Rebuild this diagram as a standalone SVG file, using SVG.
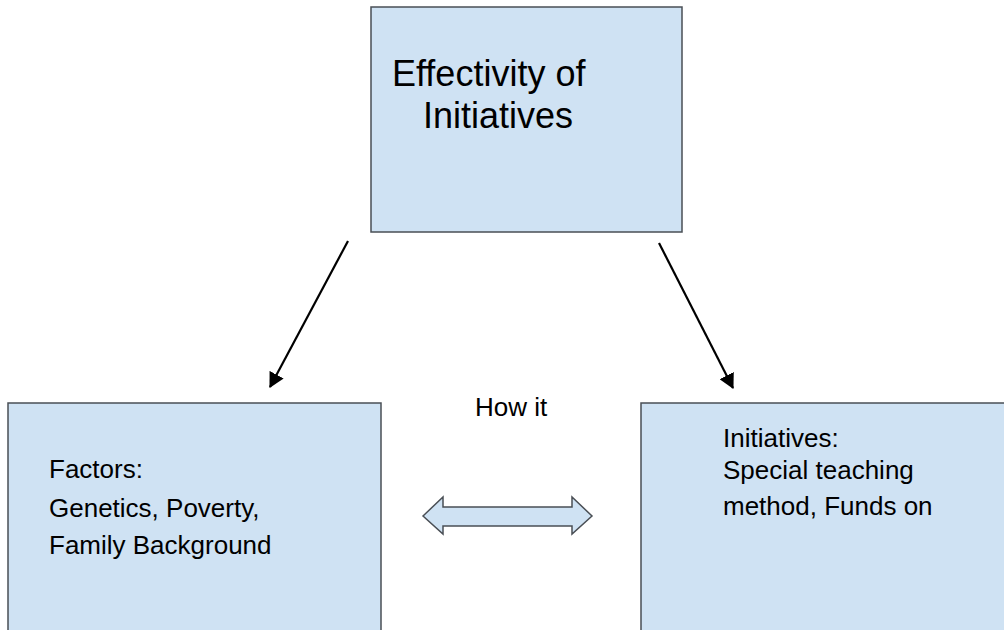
<svg xmlns="http://www.w3.org/2000/svg" width="1004" height="630" viewBox="0 0 1004 630">
  <style>
    .box { fill: #cfe2f3; stroke: #4a4f55; stroke-width: 1.5; }
    .label { font-family: "Liberation Sans", Arial, sans-serif; fill: #000; }
    .title { font-size: 36px; }
    .body { font-size: 26px; }
    .link { stroke: #000; stroke-width: 2.2; fill: none; marker-end: url(#head); }
  </style>
  <defs>
    <marker id="head" viewBox="0 0 15 16" refX="14" refY="8" markerWidth="15" markerHeight="16" markerUnits="userSpaceOnUse" orient="auto">
      <path d="M0,0 L15,8 L0,16 Z" fill="#000"/>
    </marker>
  </defs>
  <rect width="1004" height="630" fill="#fff"/>

  <g id="effectivity">
    <rect class="box" x="371" y="7" width="311" height="225" stroke="#5a5f66" stroke-width="3"/>
    <text class="label title" x="392" y="86">Effectivity of</text>
    <text class="label title" x="423" y="128">Initiatives</text>
  </g>

  <g id="factors">
    <rect class="box" x="8" y="403" width="373" height="240"/>
    <text class="label body" x="49" y="478">Factors:</text>
    <text class="label body" x="49" y="517">Genetics, Poverty,</text>
    <text class="label body" x="49" y="554">Family Background</text>
  </g>

  <g id="initiatives">
    <rect class="box" x="641" y="403" width="380" height="240"/>
    <text class="label body" x="723" y="447">Initiatives:</text>
    <text class="label body" x="723" y="479">Special teaching</text>
    <text class="label body" x="723" y="515">method, Funds on</text>
  </g>

  <g id="how-it">
    <text class="label body" x="475" y="416">How it</text>
  </g>

  <g id="connectors">
    <line class="link" x1="348" y1="241" x2="270" y2="387"/>
    <line class="link" x1="659" y1="243" x2="733" y2="388"/>
    <path class="box" d="M423,516 L443,497 L443,507 L572,507 L572,497 L592,516 L572,534 L572,526 L443,526 L443,534 Z" stroke="#111" stroke-width="2"/>
  </g>
</svg>
